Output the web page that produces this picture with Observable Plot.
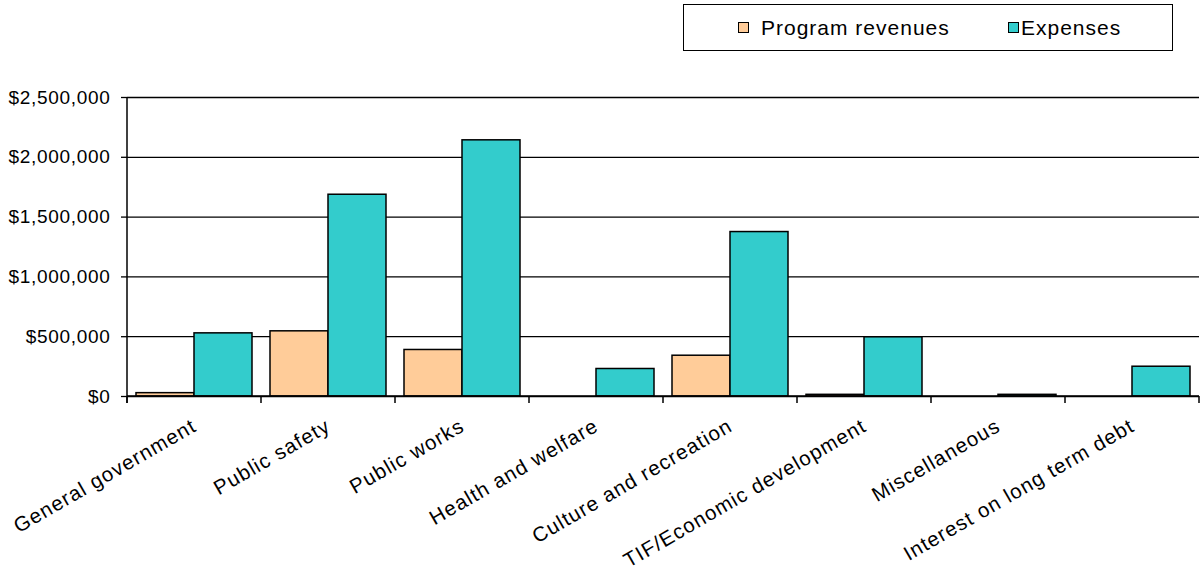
<!DOCTYPE html>
<html><head><meta charset="utf-8">
<script src="https://cdn.jsdelivr.net/npm/d3@7"></script>
<script src="https://cdn.jsdelivr.net/npm/@observablehq/plot@0.6"></script>
<style>
body{margin:0;background:#fff;font-family:"Liberation Sans",Arial,sans-serif;}
#wrap{position:relative;width:1201px;height:571px;}
#legend{position:absolute;left:683px;top:4px;width:488px;height:45px;border:1.5px solid #000;background:#fff;font-size:21px;letter-spacing:1px;color:#000;}
.item{position:absolute;top:0;height:45px;display:flex;align-items:center;}
.sw{width:9px;height:9px;border:1.5px solid #000;margin-right:12px;}
</style>
</head><body>
<div id="wrap">
<div id="chart"></div>
<div id="legend"></div>
</div>
<script>
const categories = ["General government","Public safety","Public works","Health and welfare","Culture and recreation","TIF/Economic development","Miscellaneous","Interest on long term debt"];
const programRevenues = [28000,545000,389000,0,341000,14000,0,0];
const expenses = [528000,1687000,2142000,230000,1375000,495000,14000,249000];
const yTicks = [0,500000,1000000,1500000,2000000,2500000];
const seriesNames = ["Program revenues","Expenses"];
const seriesColors = ["#FFCC99","#33CCCC"];

const W = 1201, H = 571, mL = 127, mR = 2, mT = 97, mB = 175;
const bw = (W - mL - mR) / categories.length;
const side = bw * 9 / 134, barW = bw * 58 / 134;

const rows = categories.flatMap((c, i) => [
  {category: c, series: seriesNames[0], value: programRevenues[i]},
  {category: c, series: seriesNames[1], value: expenses[i]}
]);

const plot = Plot.plot({
  width: W, height: H,
  marginLeft: mL, marginRight: mR, marginTop: mT, marginBottom: mB,
  x: {domain: categories, padding: 0, axis: null},
  y: {domain: [0, 2500000], axis: null},
  color: {domain: seriesNames, range: seriesColors},
  style: {fontFamily: "'Liberation Sans', Arial, sans-serif", fontSize: "19px", color: "#000", background: "#fff", overflow: "visible"},
  marks: [
    Plot.ruleY(yTicks, {stroke: "#000", strokeWidth: 1.3}),
    Plot.barY(rows.filter(d => d.series === seriesNames[0] && d.value > 0), {
      x: "category", y: "value", fill: "series", stroke: "#000", strokeWidth: 1.5,
      insetLeft: side, insetRight: bw - side - barW
    }),
    Plot.barY(rows.filter(d => d.series === seriesNames[1] && d.value > 0), {
      x: "category", y: "value", fill: "series", stroke: "#000", strokeWidth: 1.5,
      insetLeft: side + barW, insetRight: bw - side - 2 * barW
    }),
    Plot.axisY({ticks: yTicks, tickSize: 6, tickPadding: 11, tickFormat: d3.format("$,"), fontSize: 19, strokeWidth: 1.3, label: null}),
    Plot.text(categories, {
      x: d => d, frameAnchor: "bottom", rotate: -30, textAnchor: "end", lineAnchor: "top",
      dx: -4, dy: 21, fontSize: 20.5, fill: "#000"
    })
  ]
});

document.getElementById("chart").appendChild(plot);

const svg = d3.select(plot);
svg.selectAll("g[aria-label='y-axis tick label'] text").style("letter-spacing", "0.7px");
svg.selectAll("g[aria-label='text'] text").style("letter-spacing", "1.1px");

const xs = plot.scale("x"), ys = plot.scale("y");
const y0 = ys.apply(0), yTop = ys.apply(2500000);
const bounds = categories.map(c => xs.apply(c)).concat([xs.apply(categories[categories.length - 1]) + xs.bandwidth]);
const g = svg.append("g").attr("stroke", "#000").attr("stroke-width", 1.5);
bounds.forEach(b => g.append("line").attr("x1", b).attr("x2", b).attr("y1", y0).attr("y2", y0 + 7));
g.append("line").attr("x1", bounds[0]).attr("x2", bounds[0]).attr("y1", yTop).attr("y2", y0 + 7);
g.append("line").attr("x1", bounds[0]).attr("x2", bounds[bounds.length - 1]).attr("y1", y0).attr("y2", y0);

// Legend
const legend = d3.select("#legend");
const itemLeft = [54, 324];
seriesNames.forEach((s, i) => {
  const it = legend.append("div").attr("class", "item").style("left", itemLeft[i] + "px");
  it.append("div").attr("class", "sw").style("background", seriesColors[i]).style("margin-right", i === 0 ? "12px" : "2px");
  it.append("span").text(s);
});
</script>
</body></html>
